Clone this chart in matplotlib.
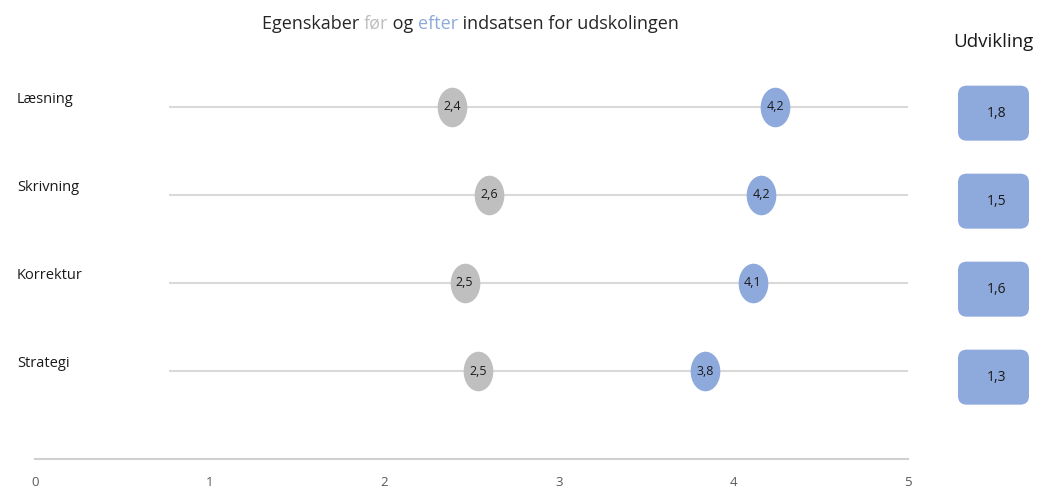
import numpy as np
import matplotlib
matplotlib.use("Agg")
import matplotlib.pyplot as plt
from matplotlib.path import Path
from matplotlib.patches import FancyBboxPatch
import matplotlib.transforms as mtransforms

plt.rcParams['font.family'] = ['Open Sans', 'DejaVu Sans']

# data
categories = ['Læsning', 'Skrivning', 'Korrektur', 'Strategi']
before = [2.39, 2.60, 2.46, 2.54]
after = [4.24, 4.16, 4.11, 3.84]
development = [1.8, 1.5, 1.6, 1.3]
xticks = [0, 1, 2, 3, 4, 5]

grey = '#BFBFBF'
blue = '#8EA9DB'

fig = plt.figure(figsize=(10.37, 4.90), dpi=100)
ax = fig.add_axes([35 / 1037, 31 / 490, 873 / 1037, 396 / 490])
ax.set_xlim(0, 5)
ax.set_ylim(0, 4.5)

ypos = [4, 3, 2, 1]

# elliptic marker (taller than wide)
circ = Path.unit_circle()
ell = Path(circ.vertices * np.array([0.74, 1.0]), circ.codes)

# grid lines
ax.hlines(ypos, 0.77, 5, color='#D9D9D9', lw=1.5, zorder=1)

ax.plot(before, ypos, ls='none', marker=ell, ms=27.5, color=grey, zorder=3)
ax.plot(after, ypos, ls='none', marker=ell, ms=27.5, color=blue, zorder=3)

def fmt(v):
    return f'{v:.1f}'.replace('.', ',')

for y, b, a in zip(ypos, before, after):
    ax.text(b, y, fmt(b), ha='center', va='center', fontsize=9, color='#1A1A1A', zorder=4)
    ax.text(a, y, fmt(a), ha='center', va='center', fontsize=9, color='#1A1A1A', zorder=4)

# category labels at the left
trans = mtransforms.blended_transform_factory(fig.transFigure, ax.transData)
for y, c in zip(ypos, categories):
    ax.text(17 / 1037, y + 0.08, c, transform=trans, ha='left', va='center',
            fontsize=10.5, color='#1A1A1A')

# development boxes on the right
xu = 873 / 5
yu = 396 / 4.5
for y, d in zip(ypos, development):
    x0 = (958 - 35) / xu
    w = 71 / xu
    h = 55 / yu
    box = FancyBboxPatch((x0, y - 0.07 - h / 2), w, h,
                         boxstyle='round,pad=0,rounding_size=0.05',
                         mutation_aspect=xu / yu, fc=blue, ec='none',
                         clip_on=False, zorder=3)
    ax.add_patch(box)
    ax.text(x0 + w / 2 + 0.02, y - 0.07, fmt(d), ha='center', va='center',
            fontsize=10, color='#1A1A1A', clip_on=False)

fig.text(993 / 1037, 1 - 42 / 490, 'Udvikling', ha='center', va='center',
         fontsize=13.5, color='#1A1A1A')

# title with coloured words
pieces = [('Egenskaber ', '#262626'), ('før', '#BFBFBF'), (' og ', '#262626'),
          ('efter', blue), (' indsatsen for udskolingen', '#262626')]
prev = fig.text(262 / 1037, 1 - 24 / 490, pieces[0][0], ha='left', va='center',
                fontsize=13, color=pieces[0][1])
for txt, col in pieces[1:]:
    prev = ax.annotate(txt, xy=(1, 0), xycoords=prev, ha='left', va='bottom',
                       fontsize=13, color=col, annotation_clip=False)

# axis styling
ax.set_xticks(xticks)
ax.set_xticklabels([str(t) for t in xticks], color='#595959', fontsize=9.5)
ax.tick_params(axis='x', length=0, pad=12)
ax.set_yticks([])
for s in ['top', 'right', 'left']:
    ax.spines[s].set_visible(False)
ax.spines['bottom'].set_color('#D0D0D0')
ax.spines['bottom'].set_linewidth(1.5)

fig.savefig('out.png', dpi=100)
